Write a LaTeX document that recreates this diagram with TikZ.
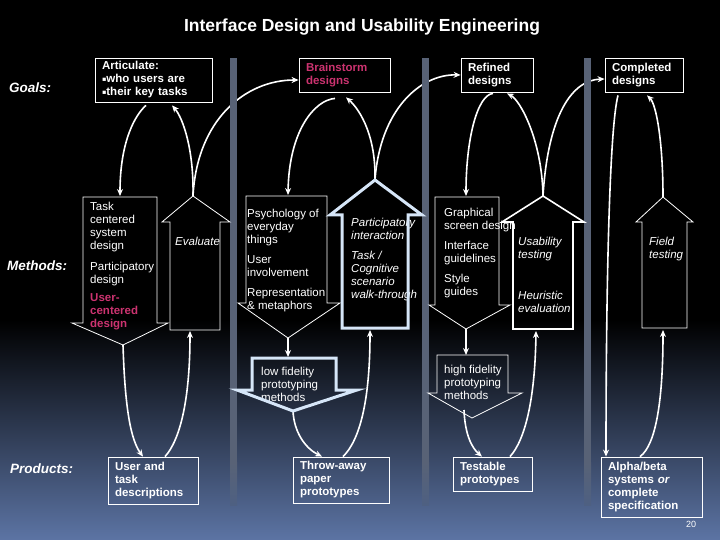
\documentclass[tikz,border=0pt]{standalone}
\usepackage{fontspec}
\setmainfont{Liberation Sans}
\newfontfamily\symfont{DejaVu Sans}
\usetikzlibrary{arrows.meta}

\definecolor{pinkc}{RGB}{204,51,112}
\definecolor{ltblue}{RGB}{214,230,248}
\definecolor{barc}{RGB}{88,98,118}
\definecolor{barfade}{RGB}{78,96,130}
\definecolor{bgbot}{RGB}{92,116,164}

\newcommand{\sqbul}{\raisebox{1.2pt}{\symfont\fontsize{6.5}{7}\selectfont ▪}}

\tikzset{
  conn/.style={draw=white, line width=1.6pt, -{Stealth[length=7pt,width=6pt]}},
  boxnode/.style={draw=white, line width=0.8pt, text=white, align=left,
    font=\bfseries\fontsize{11.5}{13}\selectfont, inner xsep=7pt, inner ysep=3pt},
  blockarrow/.style={draw=white, line width=0.8pt, line join=miter},
  thickarrow/.style={draw=ltblue, line width=3pt, line join=miter},
  mtext/.style={anchor=north west, inner sep=0pt, align=left, text=white,
    font=\fontsize{11.5}{13}\selectfont},
  itext/.style={mtext, font=\itshape\fontsize{11.5}{13}\selectfont},
  rowlabel/.style={anchor=base west, inner sep=0pt, text=white,
    font=\bfseries\itshape\fontsize{13.5}{16}\selectfont},
}

\begin{document}
\begin{tikzpicture}[x=1pt,y=-1pt]
  \useasboundingbox (0,0) rectangle (720,540);
  % background
  \fill[black] (0,0) rectangle (720,320);
  \shade[top color=black, bottom color=bgbot] (0,320) rectangle (720,540);

  \node[text=white, font=\bfseries\fontsize{17.5}{20}\selectfont] (title) at (362,27) {Interface Design and Usability Engineering};

  % row labels
  \node[rowlabel] (goals) at (9,92.5) {Goals:};
  \node[rowlabel] (methods) at (7,270.5) {Methods:};
  \node[rowlabel] (products) at (10,473) {Products:};

  % goal and product boxes
  \node[boxnode, text width=103pt, minimum height=44pt] (art) at (153.5,80) {Articulate:\\\sqbul who users are\\\sqbul their key tasks};
  \node[boxnode, text width=77pt, minimum height=34pt, text=pinkc] (brain) at (344.5,75) {Brainstorm\\designs};
  \node[boxnode, text width=58pt, minimum height=34pt] (refined) at (497,75) {Refined\\designs};
  \node[boxnode, text width=64pt, minimum height=34pt] (completed) at (644,75) {Completed\\designs};
  \node[boxnode, text width=76pt, minimum height=47pt] (utask) at (153,480.5) {User and\\task\\descriptions};
  \node[boxnode, text width=82pt, minimum height=46pt] (throw) at (341,480) {Throw-away\\paper\\prototypes};
  \node[boxnode, text width=65pt, minimum height=34pt] (testable) at (492.5,474) {Testable\\prototypes};
  \node[boxnode, text width=87pt, minimum height=60pt] (alpha) at (651.5,487) {Alpha/beta\\systems \textit{or}\\complete\\specification};

  % ends of the block arrows
  \coordinate (taskIn) at (120,196);
  \coordinate (taskTip) at (123,345);
  \coordinate (evalTip) at (193,196);
  \coordinate (evalBot) at (190,331);
  \coordinate (psychIn) at (288,195);
  \coordinate (psychTip) at (288,338);
  \coordinate (partTip) at (375,180);
  \coordinate (partBot) at (370,330);
  \coordinate (graphIn) at (466,196);
  \coordinate (graphTip) at (466,329);
  \coordinate (usabTip) at (543,196);
  \coordinate (usabBot) at (536,331);
  \coordinate (fieldTip) at (663,197);
  \coordinate (fieldBot) at (663,330);
  \coordinate (lowTop) at (288,357);
  \coordinate (lowTip) at (293,411);
  \coordinate (highTop) at (466,355);
  \coordinate (highTip) at (472,418);
  \coordinate (highOut) at (464,410);

  % connectors
  \draw[conn] ([xshift=-7.5pt,yshift=-3pt]art.south) .. controls (136,114) and (120,140) .. (taskIn);
  \draw[conn] (evalTip) .. controls (194,150) and (183,118) .. ([xshift=18.5pt,yshift=-3pt]art.south);
  \draw[conn] (evalTip) .. controls (197,120) and (245,80) .. ([yshift=-5pt]brain.west);
  \draw[conn] ([xshift=-9.5pt,yshift=-6pt]brain.south) .. controls (315,100) and (289,130) .. (psychIn);
  \draw[conn] (partTip) .. controls (376,130) and (356,106) .. ([xshift=1.5pt,yshift=-5pt]brain.south);
  \draw[conn] (partTip) .. controls (380,110) and (420,74) .. (refined.west);
  \draw[conn] ([xshift=-4pt,yshift=-1pt]refined.south) .. controls (477,95) and (466,140) .. (graphIn);
  \draw[conn] (usabTip) .. controls (542,140) and (520,100) .. ([xshift=10pt,yshift=-1pt]refined.south);
  \draw[conn] (usabTip) .. controls (548,115) and (572,80) .. ([yshift=-4pt]completed.west);
  \draw[conn] ([xshift=-26pt,yshift=-3pt]completed.south) .. controls (609,130) and (606,300) .. ([xshift=-45.5pt]alpha.north);
  \draw[conn] (fieldTip) .. controls (663,140) and (656,104) .. ([xshift=3pt,yshift=-3pt]completed.south);
  \draw[conn] ([xshift=-11.5pt]alpha.north) .. controls (656,445) and (663,400) .. (fieldBot);
  \draw[conn] (taskTip) .. controls (125,410) and (131,440) .. ([xshift=-10pt]utask.north);
  \draw[conn] ([xshift=12pt]utask.north) .. controls (180,440) and (190,400) .. (evalBot);
  \draw[conn] (psychTip) -- (lowTop);
  \draw[conn] (lowTip) .. controls (294,432) and (305,448) .. ([xshift=-19pt]throw.north);
  \draw[conn] ([xshift=2pt]throw.north) .. controls (360,440) and (370,400) .. (partBot);
  \draw[conn] (graphTip) -- (highTop);
  \draw[conn] (highOut) .. controls (465,435) and (472,448) .. ([xshift=-10.5pt]testable.north);
  \draw[conn] ([xshift=17.5pt]testable.north) .. controls (525,440) and (535,400) .. (usabBot);

  % phase bars
  \foreach \bx in {230,422,584} {
    \fill[barc] (\bx,58) rectangle (\bx+7,462);
    \shade[top color=barc, bottom color=barfade] (\bx,462) rectangle (\bx+7,505);
  }

  % method texts
  \node[mtext] (taskTxt) at (90,202) {Task\\centered\\system\\design\\[8pt]Participatory\\design};
  \node[mtext, text=pinkc, font=\bfseries\fontsize{11.5}{13}\selectfont] (ucdTxt) at (90,293) {User-\\centered\\design};
  \node[itext] (evalTxt) at (175,237) {Evaluate};
  \node[mtext] (psychTxt) at (247,209) {Psychology of\\everyday\\things\\[7pt]User\\involvement\\[7pt]Representation\\\& metaphors};
  \node[itext] (partTxt) at (351,218) {Participatory\\interaction\\[7pt]Task /\\Cognitive\\scenario\\walk-through};
  \node[mtext] (graphTxt) at (444,208) {Graphical\\screen design\\[7pt]Interface\\guidelines\\[7pt]Style\\guides};
  \node[itext] (usabTxt) at (518,237) {Usability\\testing};
  \node[itext] (heurTxt) at (518,291) {Heuristic\\evaluation};
  \node[itext] (fieldTxt) at (649,237) {Field\\testing};
  \node[mtext] (lowTxt) at (261,367) {low fidelity\\prototyping\\methods};
  \node[mtext] (highTxt) at (444,365) {high fidelity\\prototyping\\methods};

  % block arrows
  \draw[blockarrow] (83,197) -- (157,197) -- (157,323) -- (168,323) -- (taskTip) -- (72,323) -- (83,323) -- cycle;
  \draw[blockarrow] (170,330) -- (170,222) -- (162,222) -- (evalTip) -- (230,222) -- (220,222) -- (220,330) -- cycle;
  \draw[blockarrow] (246,196) -- (327,196) -- (327,303) -- (340,303) -- (psychTip) -- (238,303) -- (246,303) -- cycle;
  \draw[thickarrow] (342,328) -- (342,215) -- (330,215) -- (partTip) -- (422,215) -- (408,215) -- (408,328) -- cycle;
  \draw[blockarrow] (435,197) -- (499,197) -- (499,305) -- (510,305) -- (graphTip) -- (429,305) -- (435,305) -- cycle;
  \draw[blockarrow, line width=1.6pt] (513,329) -- (513,222) -- (502,222) -- (usabTip) -- (584,222) -- (573,222) -- (573,329) -- cycle;
  \draw[blockarrow] (642,328) -- (642,222) -- (636,222) -- (fieldTip) -- (693,222) -- (687,222) -- (687,328) -- cycle;
  \draw[thickarrow] (252,358) -- (336,358) -- (336,390) -- (357,390) -- (lowTip) -- (237,390) -- (252,390) -- cycle;
  \draw[blockarrow] (437,355) -- (508,355) -- (508,393) -- (522,393) -- (highTip) -- (428,393) -- (437,393) -- cycle;

  \node[text=white, font=\fontsize{9}{10}\selectfont] (pageno) at (691,524) {20};
\end{tikzpicture}
\end{document}
